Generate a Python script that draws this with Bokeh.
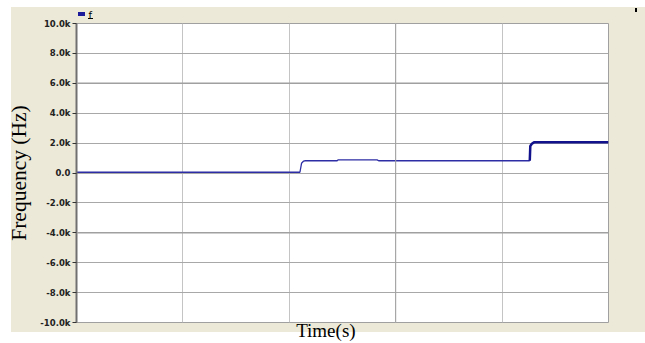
from bokeh.plotting import figure
from bokeh.models import Range1d, FixedTicker, Span
from bokeh.embed import file_html
from bokeh.resources import INLINE

# ---- data ----
time_low = [0.0, 4.20, 4.23, 4.27, 4.30, 4.90, 4.92, 5.65, 5.68, 8.52]
freq_low = [50, 50, 650, 800, 820, 820, 880, 880, 820, 820]
time_high = [8.52, 8.53, 8.56, 8.60, 10.0]
freq_high = [820, 1800, 1950, 2050, 2050]

series_name = "f"
y_label = "Frequency (Hz)"
x_label = "Time(s)"
y_ticks = [-10000, -8000, -6000, -4000, -2000, 0, 2000, 4000, 6000, 8000, 10000]
y_tick_labels = ["-10.0k", "-8.0k", "-6.0k", "-4.0k", "-2.0k", "0.0",
                 "2.0k", "4.0k", "6.0k", "8.0k", "10.0k"]
x_grid = [0, 2, 4, 6, 8, 10]

BEIGE = "#ECE9D8"

p = figure(width=645, height=343, output_backend="svg", toolbar_location=None,
           x_range=Range1d(0, 10), y_range=Range1d(-10000, 10000),
           min_border_left=76, min_border_right=37, min_border_top=23,
           min_border_bottom=20, border_fill_alpha=0,
           background_fill_color="white", outline_line_color="#a0a0a0")

# beige window panel (plus legend swatch, underline and corner mark) behind the transparent canvas border
p.styles = {
    "background-color": "white",
    "background-image": ", ".join([
        "linear-gradient(#1a1a9a, #1a1a9a)",
        "linear-gradient(#000000, #000000)",
        "linear-gradient(#000000, #000000)",
        "linear-gradient(%s, %s)" % (BEIGE, BEIGE),
    ]),
    "background-size": "7px 4px, 5px 1px, 2px 4px, 634px 325px",
    "background-position": "78px 12px, 88px 18px, 635px 8px, 11px 7px",
    "background-repeat": "no-repeat",
}

# series name shown as the legend text above the frame
p.title.text = series_name
p.title.text_font = "DejaVu Sans"
p.title.text_font_size = "10px"
p.title.text_font_style = "normal"
p.title.text_color = "#000000"
p.title.align = "left"
p.title.offset = 12
p.title.standoff = 5

# x axis: title only (non-breaking spaces shift it left of the frame centre, as in the original)
p.xaxis.ticker = FixedTicker(ticks=[])
p.xaxis.major_tick_line_color = None
p.xaxis.minor_tick_line_color = None
p.xaxis.axis_line_color = None
p.xaxis.major_label_text_font_size = "0px"
p.xaxis.major_label_standoff = 0
p.xaxis.major_tick_out = 0
p.xaxis.axis_label = x_label + "\u00a0" * 7
p.xaxis.axis_label_standoff = -3
p.xaxis.axis_label_text_font = "Liberation Serif"
p.xaxis.axis_label_text_font_style = "normal"
p.xaxis.axis_label_text_font_size = "19px"
p.xaxis.axis_label_text_color = "#000000"

p.xgrid.ticker = FixedTicker(ticks=x_grid)
p.xgrid.grid_line_color = "#c4c4c4"
p.ygrid.ticker = FixedTicker(ticks=y_ticks)
p.ygrid.grid_line_color = "#a8a8a8"

p.yaxis.ticker = FixedTicker(ticks=y_ticks)
p.yaxis.major_label_overrides = {t: s for t, s in zip(y_ticks, y_tick_labels)}
p.yaxis.major_label_text_font = "DejaVu Sans"
p.yaxis.major_label_text_font_size = "8.5px"
p.yaxis.major_label_text_font_style = "bold"
p.yaxis.major_label_text_color = "#222222"
p.yaxis.major_label_standoff = 2
p.yaxis.major_tick_out = 4
p.yaxis.major_tick_in = 0
p.yaxis.minor_tick_line_color = None
p.yaxis.major_tick_line_color = "#333333"
p.yaxis.axis_line_color = "#707070"
p.yaxis.axis_line_width = 2
p.yaxis.axis_label = y_label
p.yaxis.axis_label_standoff = 6
p.yaxis.axis_label_text_font = "Liberation Serif"
p.yaxis.axis_label_text_font_style = "normal"
p.yaxis.axis_label_text_font_size = "21.5px"
p.yaxis.axis_label_text_color = "#000000"

p.add_layout(Span(location=6, dimension="height", line_color="#a0a0a0", line_width=1))
p.add_layout(Span(location=6000, dimension="width", line_color="#a0a0a0", line_width=1.5))
p.add_layout(Span(location=-4000, dimension="width", line_color="#a0a0a0", line_width=1.5))

p.line(time_low, freq_low, line_color="#2d2da5", line_width=1.3)
p.line(time_high, freq_high, line_color="#12128c", line_width=2.5)

open("out.html", "w").write(file_html(p, INLINE))
